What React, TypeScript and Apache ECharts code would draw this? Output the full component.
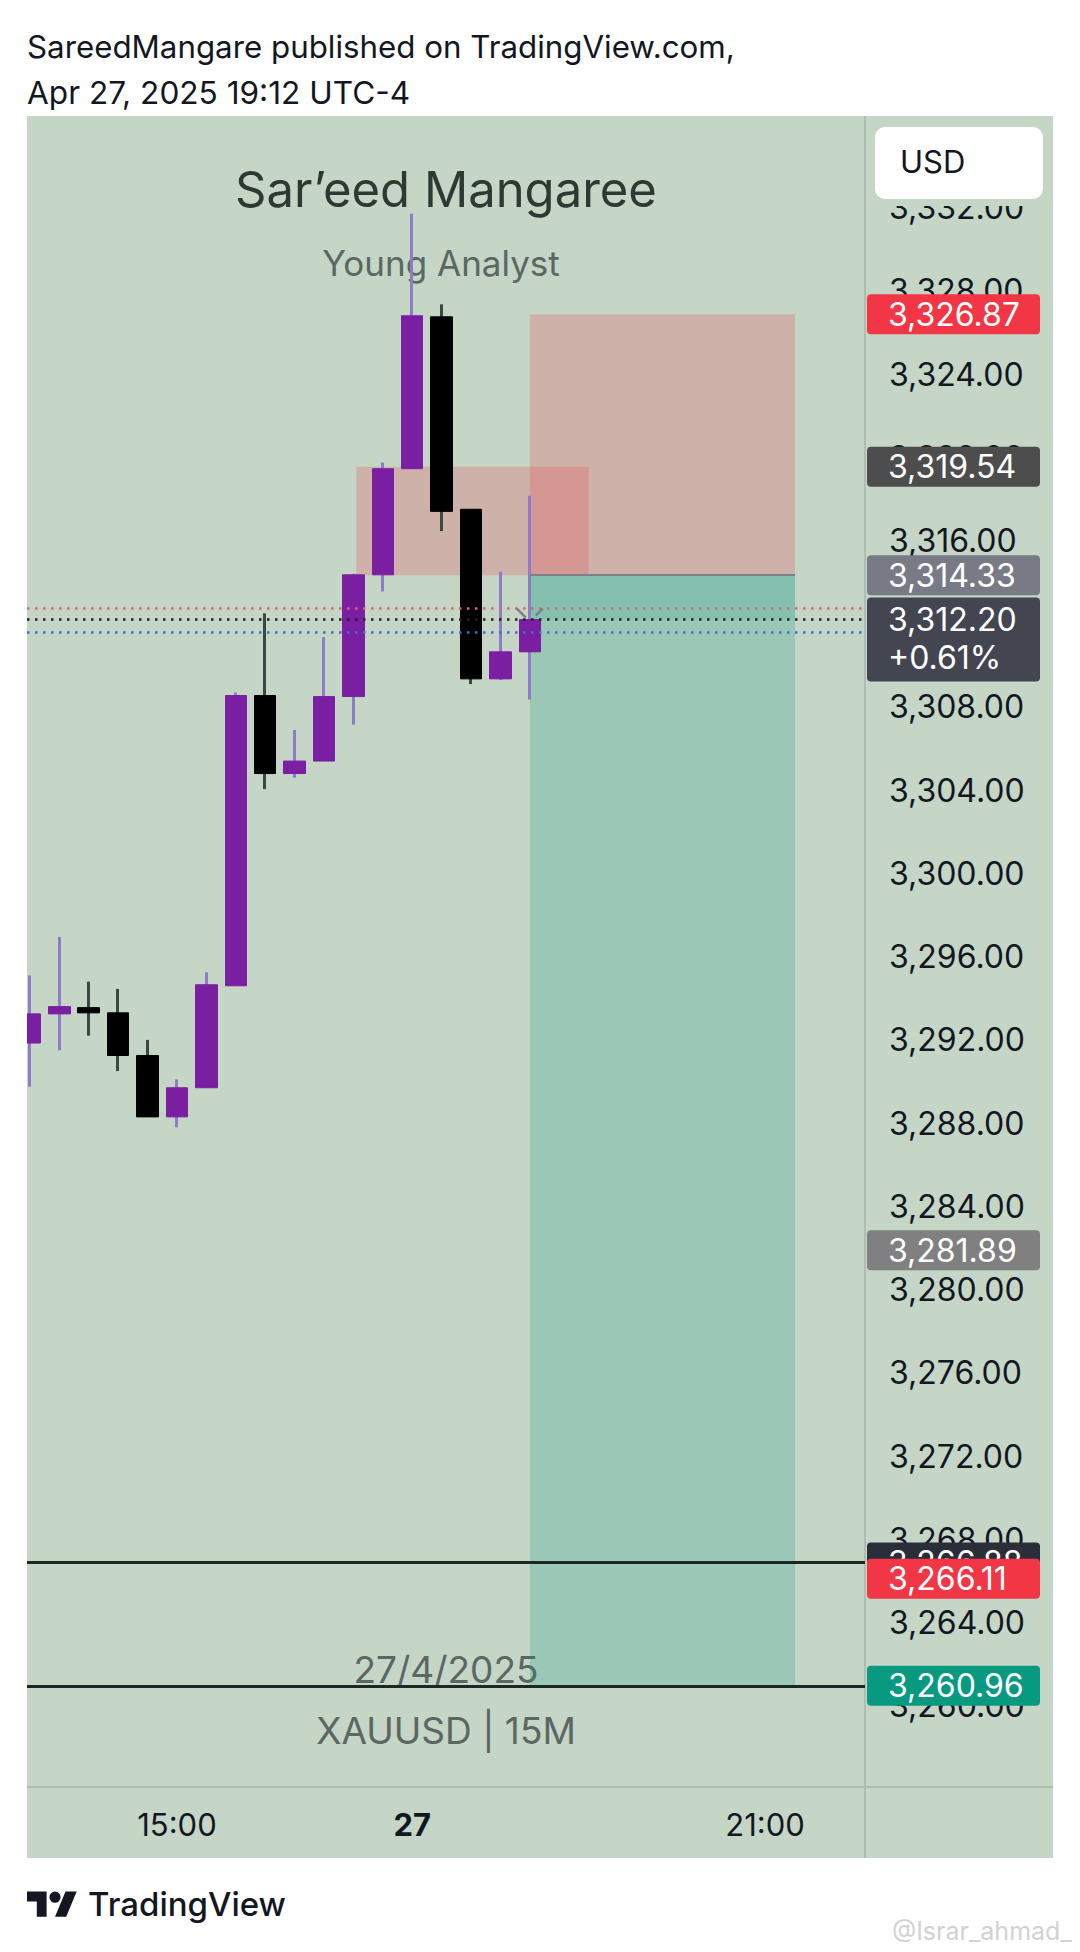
import React, { useEffect, useRef } from "react";
import * as echarts from "echarts";

// ---------- data ----------
const candleTimes = [
  "Fri 13:45", "Fri 14:00", "Fri 14:15", "Fri 14:30", "Fri 14:45", "Fri 15:00",
  "Fri 15:15", "Fri 15:30", "Fri 15:45", "Fri 16:00", "Fri 16:15", "Fri 16:30",
  "Fri 16:45", "Sun 18:00", "Sun 18:15", "Sun 18:30", "Sun 18:45", "Sun 19:00",
];
const opens = [3291.85, 3293.25, 3293.55, 3293.3, 3291.25, 3288.3, 3289.7, 3294.6, 3308.55, 3304.8, 3305.4, 3308.5, 3314.35, 3319.45, 3326.75, 3317.5, 3309.35, 3310.65];
const closes = [3293.25, 3293.6, 3293.3, 3291.25, 3288.3, 3289.7, 3294.65, 3308.55, 3304.8, 3305.4, 3308.5, 3314.35, 3319.45, 3326.8, 3317.4, 3309.35, 3310.65, 3312.2];
const lows = [3289.75, 3291.5, 3292.2, 3290.5, 3288.3, 3287.8, 3289.7, 3294.6, 3304.05, 3304.6, 3305.4, 3307.15, 3313.55, 3319.45, 3316.45, 3309.1, 3309.3, 3308.35];
const highs = [3295.1, 3296.95, 3294.8, 3294.45, 3292.0, 3290.1, 3295.25, 3308.7, 3312.5, 3306.9, 3311.35, 3314.4, 3319.75, 3331.7, 3327.35, 3317.5, 3314.5, 3318.15];

const xTickIndex = [5, 13, 25];
const xTickLabels = ["15:00", "27", "21:00"];
const boldTickLabel = "27";

const levelPrices = [3326.87, 3319.54, 3314.33, 3312.2, 3281.89, 3266.88, 3266.11, 3260.96];
const levelTexts = ["3,326.87", "3,319.54", "3,314.33", "3,312.20\n+0.61%", "3,281.89", "3,266.88", "3,266.11", "3,260.96"];

const askPrice = 3312.72;
const lastPrice = 3312.2;
const bidPrice = 3311.6;
const solidLinePrices = [3266.88, 3260.96];

const stopPrice = 3326.87;
const entryPrice = 3314.33;
const targetPrice = 3260.96;
const positionStartIdx = 17;
const positionEndIdx = 26.02;
const zoneTop = 3319.54;
const zoneBottom = 3314.33;
const zoneStartIdx = 11.1;
const zoneEndIdx = 19.0;

// ---------- styles ----------
const levelColors = ["#f23645", "#4d4d4d", "#787b86", "#434651", "#808080", "#2a2e39", "#f23645", "#089981"];
const FONT = "Inter, 'Noto Sans', sans-serif";
const UP = "#7b1fa2";
const DOWN = "#000000";
const WICK_UP = "#8e7dc6";
const WICK_DOWN = "#3b4741";
const PANEL = "#c5d5c6";
const SEP = "#adbfb0";
const TEXT = "#131722";

const TV_LOGO_PATH =
  "M14 22H7V11H0V4h14v18zM28 22h-8l7.5-18h8L28 22zM16 8a4 4 0 1 0 8 0a4 4 0 1 0 -8 0z";
echarts.graphic.registerShape("tvlogo", echarts.graphic.extendPath(TV_LOGO_PATH, {}));

function fmtPrice(v: number) {
  return v.toLocaleString("en-US", { minimumFractionDigits: 2, maximumFractionDigits: 2 });
}

function txt(id: string, text: string, x: number, y: number, size: number, fill: string, align = "left", weight: any = "normal", z = 5) {
  return {
    type: "text",
    id,
    x,
    y,
    z,
    silent: true,
    style: {
      text,
      fill,
      fontSize: size,
      fontFamily: FONT,
      fontWeight: weight,
      align,
      textAlign: align,
      verticalAlign: "middle",
      textVerticalAlign: "middle",
    },
  };
}

export default function App() {
  const ref = useRef<HTMLDivElement>(null);

  useEffect(() => {
    document.body.style.margin = "0";
    const chart = echarts.init(ref.current!, null, { renderer: "svg" });

    const ohlc = opens.map((o, i) => [i, o, closes[i], lows[i], highs[i]]);
    const bodies = opens.map((o, i) => [i, o, closes[i], Math.min(o, closes[i]), Math.max(o, closes[i])]);

    const dotted = (color: string) => ({ color, width: 2.5, type: [2.5, 5.5], cap: "butt" });

    const option: any = {
      animation: false,
      backgroundColor: "#ffffff",
      grid: { left: 27, right: 215, top: 116, bottom: 163, containLabel: false },
      xAxis: {
        type: "value",
        min: -0.1,
        max: 28.4,
        splitLine: { show: false },
        axisLine: { show: false },
        axisTick: { show: false },
        axisLabel: {
          customValues: xTickIndex,
          margin: 20,
          fontSize: 31,
          fontFamily: FONT,
          color: TEXT,
          formatter: (v: number) => {
            const i = xTickIndex.indexOf(Math.round(v));
            const t = i >= 0 ? xTickLabels[i] : "";
            return t === boldTickLabel ? `{b|${t}}` : t;
          },
          rich: { b: { fontSize: 31, fontFamily: FONT, fontWeight: "bold", color: TEXT } },
        },
      },
      yAxis: {
        type: "value",
        position: "right",
        min: 3256,
        max: 3336.4,
        interval: 4,
        splitLine: { show: false },
        axisLine: { show: false },
        axisTick: { show: false },
        axisLabel: {
          margin: 24,
          fontSize: 32,
          fontFamily: FONT,
          color: TEXT,
          formatter: (v: number) => (v > 3333 || v < 3257 ? "" : fmtPrice(v)),
        },
      },
      series: [
        {
          type: "line",
          name: "zones",
          z: 1,
          data: [],
          silent: true,
          markArea: {
            silent: true,
            itemStyle: { borderWidth: 0 },
            data: [
              [
                { xAxis: positionStartIdx, yAxis: stopPrice, itemStyle: { color: "rgba(242,54,69,0.22)", borderWidth: 0 } },
                { xAxis: positionEndIdx, yAxis: entryPrice },
              ],
              [
                { xAxis: positionStartIdx, yAxis: entryPrice, itemStyle: { color: "rgba(8,153,129,0.22)", borderWidth: 0 } },
                { xAxis: positionEndIdx, yAxis: targetPrice },
              ],
              [
                { xAxis: positionStartIdx, yAxis: entryPrice, itemStyle: { color: "rgba(8,153,129,0.16)", borderWidth: 0 } },
                { xAxis: positionEndIdx, yAxis: lastPrice },
              ],
              [
                { xAxis: zoneStartIdx, yAxis: zoneTop, itemStyle: { color: "rgba(242,54,69,0.22)", borderWidth: 0 } },
                { xAxis: zoneEndIdx, yAxis: zoneBottom },
              ],
            ],
          },
          markLine: {
            silent: true,
            symbol: ["none", "none"],
            label: { show: false },
            lineStyle: { color: "#7d8088", width: 2, type: "solid" },
            data: [[{ coord: [positionStartIdx, entryPrice] }, { coord: [positionEndIdx, entryPrice] }]],
          },
        },
        {
          type: "candlestick",
          name: "wicks",
          z: 2,
          silent: true,
          clip: true,
          barWidth: 1,
          encode: { x: 0, y: [1, 2, 3, 4] },
          data: ohlc,
          itemStyle: { color: WICK_UP, color0: WICK_DOWN, borderColor: WICK_UP, borderColor0: WICK_DOWN, borderWidth: 3 },
        },
        {
          type: "candlestick",
          name: "bodies",
          z: 3,
          silent: true,
          clip: true,
          barWidth: 22,
          encode: { x: 0, y: [1, 2, 3, 4] },
          data: bodies,
          itemStyle: { color: UP, color0: DOWN, borderColor: UP, borderColor0: DOWN, borderWidth: 1 },
        },
        {
          type: "line",
          name: "levels",
          z: 4,
          data: [],
          silent: true,
          markLine: {
            silent: true,
            symbol: ["none", "none"],
            label: { show: false },
            data: [
              { yAxis: askPrice, lineStyle: dotted("#e0646c") },
              { yAxis: lastPrice, lineStyle: dotted("#222222") },
              { yAxis: bidPrice, lineStyle: dotted("#3a6fd6") },
              ...solidLinePrices.map((p) => ({ yAxis: p, lineStyle: { color: "#1b2825", width: 3, type: "solid" } })),
            ],
          },
        },
      ],
    };

    chart.setOption(option);

    // last candle marker position (through the library's scales)
    const lastPt = chart.convertToPixel({ gridIndex: 0 }, [opens.length - 1, lastPrice]) as number[];
    const mx = lastPt[0];
    const my = lastPt[1];

    const baseGraphics: any[] = [
      { type: "rect", id: "panel", z: -100, silent: true, shape: { x: 27, y: 116, width: 1026, height: 1742 }, style: { fill: PANEL } },
      // white page margin left of the panel (candles are cut at the panel edge)
      { type: "rect", id: "leftmask", z: 50, silent: true, shape: { x: 0, y: 110, width: 27, height: 1760 }, style: { fill: "#ffffff" } },
      { type: "line", id: "vsep", z: 1, silent: true, shape: { x1: 865, y1: 116, x2: 865, y2: 1858 }, style: { stroke: SEP, lineWidth: 2 } },
      { type: "line", id: "hsep", z: 1, silent: true, shape: { x1: 27, y1: 1787, x2: 1053, y2: 1787 }, style: { stroke: SEP, lineWidth: 2 } },
      // axis label area under the currency button is clipped
      { type: "rect", id: "usdclip", z: 10, silent: true, shape: { x: 867, y: 195, width: 185, height: 11 }, style: { fill: PANEL } },
      { type: "rect", id: "usdbox", z: 11, silent: true, shape: { x: 875, y: 127, width: 168, height: 72, r: 10 }, style: { fill: "#ffffff" } },
      txt("usd", "USD", 900, 161, 31, TEXT, "left", "normal", 12),
      txt("wm1", "Sar\u2019eed Mangaree", 446, 189, 49, "#2e3934", "center", "normal", 0),
      txt("wm2", "Young Analyst", 441, 263, 35, "#5b6762", "center", "normal", 0),
      txt("wm3", "27/4/2025", 446, 1669, 37, "#5b6762", "center", "normal", 0),
      txt("wm4", "XAUUSD | 15M", 446, 1730, 37, "#5b6762", "center", "normal", 0),
      txt("h1", "SareedMangare published on TradingView.com,", 27, 47, 31.3, TEXT),
      txt("h2", "Apr 27, 2025 19:12 UTC-4", 27, 92, 31.6, TEXT),
      { type: "tvlogo", id: "logo", x: 27, y: 1886, scaleX: 1.4, scaleY: 1.4, z: 5, silent: true, style: { fill: TEXT } },
      txt("tv", "TradingView", 88, 1904, 33, TEXT, "left", 500),
      txt("handle", "@Israr_ahmad_", 892, 1931, 25, "#d2d2d2"),
      {
        type: "polyline", id: "chevL", z: 6, silent: true,
        shape: { points: [[mx - 13, my - 11], [mx - 4, my - 2]] },
        style: { stroke: "#7d8088", lineWidth: 2.5, fill: "none" },
      },
      {
        type: "polyline", id: "chevR", z: 6, silent: true,
        shape: { points: [[mx + 6, my - 4], [mx + 13, my - 11]] },
        style: { stroke: "#7d8088", lineWidth: 2.5, fill: "none" },
      },
    ];

    const labelGraphics: any[] = [];
    levelPrices.forEach((p, i) => {
      const py = chart.convertToPixel({ yAxisIndex: 0 }, p) as number;
      const two = levelTexts[i].indexOf("\n") >= 0;
      const h = two ? 84 : 40;
      const top = two ? py - 22 : py - h / 2;
      labelGraphics.push({
        type: "rect",
        id: "lb" + i,
        z: 20 + i * 2,
        silent: true,
        shape: { x: 867, y: top, width: 173, height: h, r: 4 },
        style: { fill: levelColors[i] },
      });
      labelGraphics.push({
        type: "text",
        id: "lt" + i,
        z: 21 + i * 2,
        silent: true,
        x: 888,
        y: two ? top + 3 : py,
        style: {
          text: levelTexts[i],
          fill: "#ffffff",
          fontSize: 32,
          fontFamily: FONT,
          lineHeight: 38,
          align: "left",
          textAlign: "left",
          verticalAlign: two ? "top" : "middle",
          textVerticalAlign: two ? "top" : "middle",
        },
      });
    });

    chart.setOption({ graphic: [...baseGraphics, ...labelGraphics] });

    return () => chart.dispose();
  }, []);

  return (
    <div
      ref={ref}
      data-times={candleTimes.length}
      style={{ position: "absolute", left: 0, top: 0, width: 1080, height: 1952 }}
    />
  );
}
